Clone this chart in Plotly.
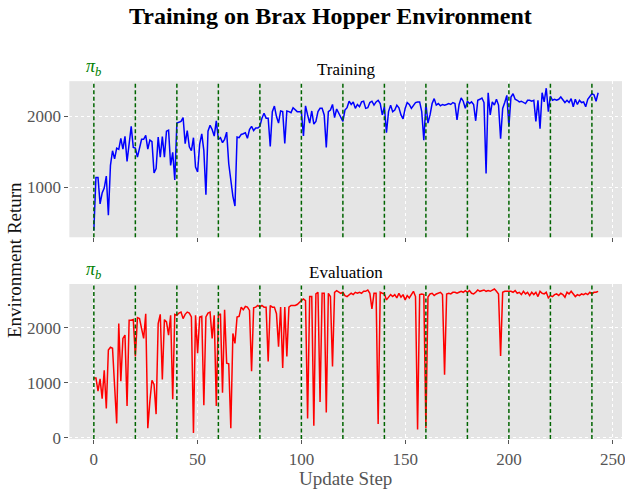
import plotly.graph_objects as go

steps = list(range(244))

train_return = [
    395, 1142, 1142, 770, 922, 991, 1161, 610, 1312, 1518,
    1404, 1555, 1537, 1693, 1541, 1720, 1367, 1587, 1862, 1564,
    1555, 1427, 1564, 1679, 1679, 1734, 1541, 1670, 1647, 1206,
    1266, 1711, 1427, 1716, 1427, 1794, 1807, 1312, 1495, 1106,
    1908, 1922, 1931, 1986, 1619, 1803, 1573, 1518, 1702, 1289,
    1220, 1610, 1757, 1520, 899, 1794, 1876, 1817, 1725, 1940,
    1679, 1702, 1633, 1679, 1780, 1335, 1060, 876, 739, 1711,
    1702, 1748, 1757, 1771, 1693, 1817, 1862, 1803, 1839, 1839,
    1862, 1977, 2046, 1977, 1977, 1578, 2069, 2147, 2000, 1908,
    2078, 2069, 1619, 2078, 2069, 2055, 2124, 2092, 2069, 2069,
    2069, 1725, 2151, 2023, 1908, 2078, 1894, 1931, 2069, 2115,
    2115, 2023, 1564, 2069, 2092, 2170, 1986, 2106, 2046, 2000,
    1931, 2092, 2124, 2216, 2170, 2206, 2115, 2170, 2138, 2206,
    2216, 2115, 2124, 2197, 2216, 2161, 2206, 2229, 2183, 2023,
    2138, 1771, 2069, 2161, 2069, 2092, 2161, 2124, 2023, 1968,
    2115, 2197, 2170, 2115, 2161, 2197, 2206, 2206, 2069, 1665,
    2183, 1908, 2023, 2183, 2252, 2161, 2183, 2151, 2170, 2161,
    2170, 2183, 2170, 2197, 2183, 1954, 2170, 2261, 2216, 2115,
    2216, 2183, 2206, 2170, 1940, 2229, 2243, 2261, 2197, 1197,
    2335, 2023, 2206, 2161, 2243, 2161, 1688, 2115, 2197, 2298,
    1862, 2275, 2321, 2243, 2229, 2206, 2216, 2197, 2183, 2229,
    2229, 2216, 2229, 1931, 2229, 1830, 2335, 2206, 2399, 2069,
    2289, 2229, 2243, 2229, 2243, 2275, 2229, 2197, 2229, 2197,
    2252, 2138, 2243, 2170, 2229, 2197, 2206, 2138, 2243, 2275,
    2321, 2307, 2216, 2335,
]

eval_return = [
    1090, 1090, 850, 1072, 713, 1228, 533, 1599, 1647, 1629,
    940, 263, 2078, 1030, 1808, 1868, 581, 2138, 2138, 2150,
    1479, 2186, 2168, 1970, 1808, 2257, 174, 671, 1048, 970,
    431, 2078, 2246, 1060, 2150, 2108, 1868, 2228, 701, 2246,
    2228, 2269, 2287, 2168, 2246, 2287, 2269, 2198, 90, 2228,
    1539, 2198, 2210, 593, 2198, 2269, 2287, 1808, 2228, 581,
    2228, 2257, 820, 2329, 1359, 1347, 174, 1898, 1719, 2198,
    2210, 2377, 2329, 2389, 2377, 2317, 1210, 2365, 2377, 2407,
    2377, 2407, 2377, 2377, 1389, 2407, 2377, 2377, 2257, 1659,
    2377, 1269, 2377, 1479, 2377, 2407, 2407, 2407, 2425, 2467,
    2497, 2527, 2497, 353, 2569, 2569, 222, 2617, 2647, 653,
    2629, 2629, 461, 2629, 2569, 1299, 2647, 2677, 2647, 2629,
    2647, 2587, 2569, 2605, 2629, 2605, 2647, 2629, 2647, 2629,
    2665, 2665, 2689, 2629, 2347, 2629, 2629, 251, 2647, 2629,
    2617, 2509, 2569, 2605, 2569, 2605, 2545, 2629, 2557, 2605,
    2509, 2587, 2545, 2617, 2665, 2569, 150, 2605, 2617, 2605,
    180, 2560, 2617, 2629, 2587, 2617, 2629, 2647, 2605, 1150,
    2617, 2629, 2617, 2647, 2647, 2629, 2647, 2665, 2647, 2677,
    2647, 2677, 2629, 2617, 2647, 2689, 2665, 2677, 2689, 2665,
    2677, 2665, 2689, 2707, 2665, 2617, 1491, 2647, 2665, 2665,
    2665, 2665, 2647, 2677, 2629, 2647, 2605, 2665, 2617, 2647,
    2587, 2647, 2605, 2647, 2569, 2665, 2629, 2617, 2647, 2545,
    2587, 2569, 2605, 2617, 2587, 2629, 2605, 2557, 2647, 2617,
    2665, 2605, 2569, 2605, 2587, 2617, 2605, 2629, 2605, 2647,
    2617, 2647, 2647, 2665,
]

policy_switch_steps = list(range(0, 241, 20))
x_ticks = [0, 50, 100, 150, 200, 250]
top_y_ticks = [1000, 2000]
bottom_y_ticks = [0, 1000, 2000]

FONT = "Liberation Serif"
W, H = 625, 491

def px_x(p):
    return p / W

def px_y(p):
    return (H - p) / H

top_dom = [px_y(241.7), px_y(82.7)]
bot_dom = [px_y(447.3), px_y(289.3)]
x_dom = [px_x(69.7), 1.0]
x_range = [-11.8, 254.5]

fig = go.Figure()
fig.add_trace(go.Scatter(x=steps, y=train_return, mode="lines",
                         line=dict(color="#0000ff", width=1.5),
                         xaxis="x", yaxis="y", showlegend=False))
fig.add_trace(go.Scatter(x=steps, y=eval_return, mode="lines",
                         line=dict(color="#ff0000", width=1.5),
                         xaxis="x2", yaxis="y2", showlegend=False))

shapes = []
for s in policy_switch_steps:
    for xr, yr in (("x", "y domain"), ("x2", "y2 domain")):
        shapes.append(dict(type="line", xref=xr, yref=yr, x0=s, x1=s, y0=0, y1=1,
                           line=dict(color="#006400", width=1.5, dash="4px,2.5px"),
                           layer="above"))

axis_common = dict(showgrid=True, gridcolor="white", gridwidth=0.8, griddash="dot",
                   zeroline=False, showline=False, ticks="outside", ticklen=4,
                   tickcolor="#555555", tickwidth=1, ticklabeloverflow="allow",
                   tickfont=dict(family=FONT, size=17, color="#555555"))

fig.update_layout(
    width=W, height=H,
    margin=dict(l=0, r=0, t=0, b=0),
    paper_bgcolor="white",
    plot_bgcolor="#E5E5E5",
    shapes=shapes,
    xaxis=dict(domain=x_dom, range=x_range, anchor="y", tickvals=x_ticks,
               showticklabels=False, **axis_common),
    yaxis=dict(domain=top_dom, range=[299, 2498], anchor="x", tickvals=top_y_ticks,
               **axis_common),
    xaxis2=dict(domain=x_dom, range=x_range, anchor="y2", tickvals=x_ticks,
                title=dict(text="Update Step", font=dict(family=FONT, size=19, color="#555555"),
                           standoff=2),
                **axis_common),
    yaxis2=dict(domain=bot_dom, range=[-23, 2798], anchor="x2", tickvals=bottom_y_ticks,
                **axis_common),
    annotations=[
        dict(text="<b>Training on Brax Hopper Environment</b>", xref="paper", yref="paper",
             x=px_x(332), y=px_y(16), xanchor="center", yanchor="middle", showarrow=False,
             font=dict(family=FONT, size=24, color="black")),
        dict(text="Training", xref="paper", yref="paper", x=(x_dom[0] + 1.0003) / 2,
             y=top_dom[1], yanchor="bottom", yshift=0, showarrow=False,
             font=dict(family=FONT, size=17, color="black")),
        dict(text="Evaluation", xref="paper", yref="paper", x=(x_dom[0] + 1.0003) / 2,
             y=bot_dom[1], yanchor="bottom", yshift=0, showarrow=False,
             font=dict(family=FONT, size=17, color="black")),
        dict(text="<i>π</i><sub><i>b</i></sub>", xref="x", yref="paper", x=0,
             y=top_dom[1], yanchor="bottom", yshift=0, showarrow=False,
             font=dict(family=FONT, size=18, color="green")),
        dict(text="<i>π</i><sub><i>b</i></sub>", xref="x2", yref="paper", x=0,
             y=bot_dom[1], yanchor="bottom", yshift=0, showarrow=False,
             font=dict(family=FONT, size=18, color="green")),
        dict(text="Environment Return", xref="paper", yref="paper", x=px_x(14),
             y=px_y(265), xanchor="center", yanchor="middle", textangle=-90,
             showarrow=False, font=dict(family=FONT, size=19, color="#111111")),
    ],
)

fig.write_html("out.html")
